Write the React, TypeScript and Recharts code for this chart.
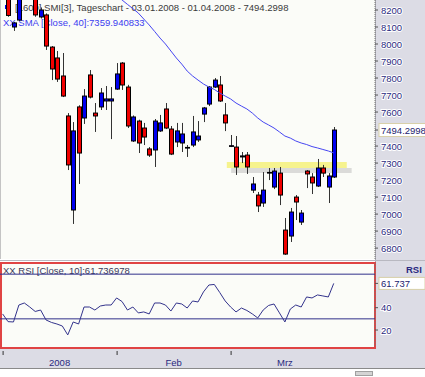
import React from "react";
import {
  ComposedChart,
  LineChart,
  Bar,
  Line,
  XAxis,
  YAxis,
  ReferenceArea,
  ReferenceLine,
} from "recharts";

// SMI daily candles 03.01.2008 - 01.04.2008 (index = trading day)
const openPx = [
  8470, 8330, 8100, 8141, 8380, 8320, 8330, 8159, 8171, 7982,
  7918, 7812, 7577, 7024, 7630, 7565, 7818, 7594, 7630, 7665,
  7665, 7735, 7888, 7747, 7430, 7547, 7506, 7383, 7377, 7489,
  7618, 7500, 7424, 7418, 7388, 7406, 7436, 7588, 7647, 7747,
  7759, 7583, 7398, 7394, 7336, 7347, 7141, 7112, 7065, 7241,
  7159, 7241, 6906, 6871, 7100, 6953, 7253, 7218, 7165, 7271,
  7159, 7218,
];
const highPx = [
  8490, 8350, 8130, 8330, 8420, 8370, 8360, 8215, 8180, 7988,
  7959, 7947, 7594, 7541, 7640, 7735, 7847, 7653, 7741, 7753,
  7747, 7888, 7894, 7760, 7580, 7555, 7536, 7394, 7559, 7583,
  7653, 7518, 7536, 7536, 7406, 7577, 7547, 7630, 7753, 7800,
  7812, 7653, 7465, 7459, 7365, 7365, 7218, 7130, 7247, 7271,
  7271, 7277, 6977, 7036, 7112, 7024, 7259, 7241, 7324, 7289,
  7241, 7512,
];
const lowPx = [
  8380, 8160, 8077, 8135, 8280, 8275, 8160, 8150, 7965, 7788,
  7777, 7688, 7259, 6942, 7177, 7530, 7680, 7483, 7612, 7612,
  7441, 7730, 7730, 7506, 7424, 7359, 7406, 7336, 7277, 7483,
  7500, 7347, 7394, 7365, 7336, 7394, 7424, 7541, 7635, 7741,
  7659, 7488, 7394, 7230, 7300, 7236, 7124, 7012, 7042, 7200,
  7147, 7053, 6760, 6836, 6965, 6936, 7153, 7118, 7159, 7218,
  7065, 7212,
];
const closePx = [
  8400, 8168, 8124, 8300, 8320, 8350, 8171, 8200, 7988, 7853,
  7794, 7694, 7289, 7489, 7359, 7694, 7688, 7577, 7712, 7677,
  7677, 7824, 7759, 7518, 7571, 7418, 7453, 7347, 7547, 7536,
  7506, 7353, 7489, 7471, 7392, 7483, 7459, 7624, 7747, 7788,
  7665, 7536, 7402, 7277, 7342, 7277, 7177, 7048, 7141, 7245,
  7253, 7112, 6765, 7012, 7071, 7006, 7236, 7183, 7271, 7241,
  7224, 7494.2998,
];
const sma40 = [
  null, null, null, null, null, null, null, null, null, null,
  null, null, null, null, null, null, null, null, null, null,
  8309, 8284, 8259, 8233, 8208, 8182, 8147, 8112, 8074, 8035,
  8000, 7959, 7918, 7882, 7841, 7812, 7788, 7765, 7747, 7733,
  7712, 7694, 7677, 7653, 7635, 7618, 7594, 7565, 7541, 7524,
  7506, 7483, 7459, 7447, 7430, 7418, 7409, 7397, 7389, 7380,
  7371, 7359.940833,
];
const rsi10 = [
  34.4, 27.5, 27.2, 42.4, 44.2, 40.6, 36.6, 37.9, 29.0, 26.8,
  25.4, 23.6, 15.6, 27.2, 25.4, 40.6, 40.6, 37.9, 41.5, 42.4,
  42.4, 48.7, 45.5, 37.9, 40.6, 35.3, 36.2, 34.4, 44.2, 44.2,
  42.4, 37.0, 44.2, 43.3, 39.7, 46.0, 45.1, 54.1, 60.3, 60.8,
  53.6, 46.0, 40.6, 36.2, 39.7, 37.5, 34.4, 30.8, 37.9, 42.0,
  43.3, 35.3, 27.2, 38.8, 42.4, 40.6, 49.6, 48.7, 51.4, 50.5,
  49.6, 61.736978,
];

const monthLabels = ["2008", "Feb", "Mrz"];
const monthStarts = [0, 21, 42];
const monthMids = [10.5, 31.5, 52];

const priceTicks = [6800, 6900, 7000, 7100, 7200, 7300, 7400, 7600, 7700, 7800, 7900, 8000, 8100, 8200];
const rsiTicks = [20, 40];
const rsiBands = [70, 30];
const LAST_CLOSE = 7494.2998;
const LAST_SMA = 7359.940833;
const LAST_RSI = 61.736978;

// highlighted support zone
const zoneX = [41.3, 63.4];
const zoneY = [7271, 7306];
const shadowX = [42.1, 64.3];
const shadowY = [7242, 7271];

const X_DOMAIN: [number, number] = [-0.48, 68.6];
const FONT = "'Liberation Sans', Arial, sans-serif";
const AXIS_BG = "#dcdce5";
const PLOT_BG = "#fbfcf8";
const NAVY = "#2a2a80";

const candles = openPx.map((o, i) => ({
  i,
  open: o,
  high: highPx[i],
  low: lowPx[i],
  close: closePx[i],
  range: [lowPx[i], highPx[i]],
  sma: sma40[i],
}));

const rsiData = rsi10.map((v, i) => ({ i, rsi: v }));

function Candle(props: any) {
  const { x, y, width, height, payload } = props;
  const { open, close, high, low } = payload;
  const k = height / (high - low);
  const py = (v: number) => y + (high - v) * k;
  const c = Math.round(x + width / 2);
  const up = close >= open;
  const top = py(Math.max(open, close));
  const bot = py(Math.min(open, close));
  return (
    <g>
      <line x1={c + 0.5} x2={c + 0.5} y1={y} y2={y + height} stroke="#333" strokeWidth={1} />
      <rect
        x={c - 1.5}
        y={top}
        width={4}
        height={Math.max(bot - top, 0.5)}
        fill={up ? "#0000f0" : "#f00000"}
        stroke="#000"
        strokeWidth={1}
      />
    </g>
  );
}

function PriceTick(props: any) {
  const { x, y, payload } = props;
  const v = payload.value;
  if (v === LAST_CLOSE) {
    return (
      <g>
        <rect x={x - 2} y={y - 6.5} width={52} height={13} fill="#fff" stroke="#d8d0a8" />
        <text x={x} y={y + 3.5} fontSize={9.5} fill="#22226e">
          {v.toFixed(4)}
        </text>
      </g>
    );
  }
  return (
    <text x={x} y={y + 3.5} fontSize={9.5} fill={NAVY} stroke="#fff" strokeWidth={2} paintOrder="stroke">
      {v}
    </text>
  );
}

function RsiTick(props: any) {
  const { x, y, payload } = props;
  const v = payload.value;
  if (v === LAST_RSI) {
    return (
      <g>
        <rect x={x - 2} y={y - 6} width={46} height={12} fill="#fff" stroke="#d8d0a8" />
        <text x={x} y={y + 3.5} fontSize={9.5} fill="#22226e">
          {v.toFixed(3)}
        </text>
      </g>
    );
  }
  return (
    <text x={x} y={y + 3.5} fontSize={9.5} fill={NAVY} stroke="#fff" strokeWidth={2} paintOrder="stroke">
      {v}
    </text>
  );
}

function DateTick(props: any) {
  const { x, y, payload } = props;
  const v = payload.value;
  if (monthStarts.includes(v)) {
    return <line x1={x + 0.5} x2={x + 0.5} y1={y + 4} y2={y + 8} stroke="#333" />;
  }
  const label = monthLabels[monthMids.indexOf(v)];
  return (
    <text x={x} y={y + 19} textAnchor="middle" fontSize={9.5} fill={NAVY}>
      {label}
    </text>
  );
}

export default function App() {
  return (
    <div
      style={{
        position: "relative",
        width: 425,
        height: 377,
        background: "#fff",
        overflow: "hidden",
        fontFamily: FONT,
      }}
    >
      <style>{`body{margin:0}`}</style>

      {/* panel backgrounds */}
      <div style={{ position: "absolute", left: 0, top: 0, width: 375, height: 259, background: PLOT_BG, borderLeft: "1px solid #c4c4c4", boxSizing: "border-box" }} />
      <div style={{ position: "absolute", left: 375, top: 0, width: 50, height: 368, background: AXIS_BG, borderLeft: "1px solid #a8a8b0", boxSizing: "border-box" }} />
      <div style={{ position: "absolute", left: 0, top: 260, width: 425, height: 1, background: "#b8b8c0" }} />
      <div style={{ position: "absolute", left: 0, top: 262, width: 376, height: 87, background: PLOT_BG, border: "2px solid #e04444", boxSizing: "border-box" }} />
      <div style={{ position: "absolute", left: 0, top: 349, width: 425, height: 19, background: AXIS_BG }} />
      <div style={{ position: "absolute", left: 0, top: 368, width: 425, height: 1, background: "#8a8a8a" }} />
      <div style={{ position: "absolute", left: 355, top: 371, width: 18, height: 5, background: "#d4d4d4", border: "1px solid #a0a0a0", boxSizing: "border-box" }} />

      {/* legend texts (behind the candles) */}
      <div style={{ position: "absolute", left: 5, top: 5, width: 4, height: 4, background: "#0000f0" }} />
      <div style={{ position: "absolute", left: 15, top: 2, fontSize: 9.5, color: "#3a3a3a", whiteSpace: "nowrap" }}>
        [1600] SMI[3], Tageschart - 03.01.2008 - 01.04.2008 - {LAST_CLOSE.toFixed(4)}
      </div>
      <div style={{ position: "absolute", left: 3, top: 17, fontSize: 9.5, color: "#3c3cf0", whiteSpace: "nowrap" }}>
        XX SMA [Close, 40]:{LAST_SMA.toFixed(6)}
      </div>
      <div style={{ position: "absolute", left: 3, top: 265, fontSize: 9.5, color: "#3a3a5a", whiteSpace: "nowrap" }}>
        XX RSI [Close, 10]:{LAST_RSI.toFixed(6)}
      </div>
      <div style={{ position: "absolute", left: 406, top: 264, fontSize: 9.5, color: NAVY, fontWeight: "bold" }}>RSI</div>

      {/* price panel */}
      <div style={{ position: "absolute", left: 0, top: 0 }}>
        <ComposedChart width={425} height={259} data={candles} margin={{ top: 0, right: 0, bottom: 0, left: 0 }}>
          <XAxis dataKey="i" type="number" domain={X_DOMAIN} allowDataOverflow hide />
          <YAxis
            orientation="right"
            width={50}
            type="number"
            domain={[6735.9, 8258.8]}
            allowDataOverflow
            ticks={[...priceTicks, LAST_CLOSE]}
            interval={0}
            tickSize={3}
            tickMargin={3}
            axisLine={{ stroke: "#777", strokeDasharray: "1 1" }}
            tickLine={{ stroke: "#555" }}
            tick={<PriceTick />}
          />
          <Bar dataKey="range" barSize={4} shape={<Candle />} isAnimationActive={false} />
          <Line
            dataKey="sma"
            type="linear"
            stroke="#4646f2"
            strokeWidth={1}
            dot={false}
            activeDot={false}
            isAnimationActive={false}
          />
          <ReferenceArea x1={shadowX[0]} x2={shadowX[1]} y1={shadowY[0]} y2={shadowY[1]} fill="#b4b4b4" fillOpacity={0.45} stroke="none" />
          <ReferenceArea x1={zoneX[0]} x2={zoneX[1]} y1={zoneY[0]} y2={zoneY[1]} fill="#f2ee55" fillOpacity={0.65} stroke="none" />
        </ComposedChart>
      </div>

      {/* RSI panel */}
      <div style={{ position: "absolute", left: 0, top: 263 }}>
        <LineChart width={425} height={105} data={rsiData} margin={{ top: 0, right: 0, bottom: 0, left: 0 }}>
          <XAxis
            dataKey="i"
            type="number"
            domain={X_DOMAIN}
            allowDataOverflow
            ticks={[...monthStarts, ...monthMids].sort((a, b) => a - b)}
            interval={0}
            height={21}
            tickSize={0}
            tickMargin={0}
            axisLine={false}
            tickLine={false}
            tick={<DateTick />}
          />
          <YAxis
            orientation="right"
            width={50}
            type="number"
            domain={[4.8, 80]}
            allowDataOverflow
            ticks={[...rsiTicks, LAST_RSI]}
            interval={0}
            tickSize={3}
            tickMargin={3}
            axisLine={{ stroke: "#777", strokeDasharray: "1 1" }}
            tickLine={{ stroke: "#555" }}
            tick={<RsiTick />}
          />
          {rsiBands.map((b) => (
            <ReferenceLine key={b} y={b} stroke="#30308a" strokeWidth={1} />
          ))}
          <Line
            dataKey="rsi"
            type="linear"
            stroke="#33338c"
            strokeWidth={1}
            dot={false}
            activeDot={false}
            isAnimationActive={false}
          />
        </LineChart>
      </div>
    </div>
  );
}
